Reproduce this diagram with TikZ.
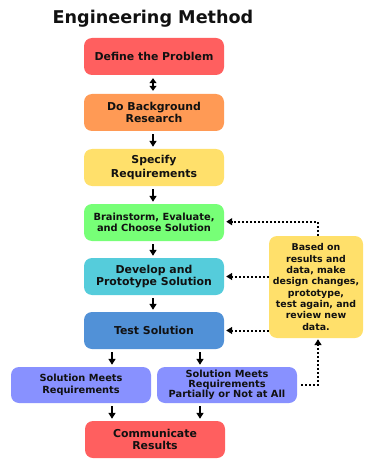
\documentclass[tikz,border=0pt]{standalone}
\usepackage{fontspec}
\setmainfont{DejaVu Sans}
\usetikzlibrary{arrows.meta}
\definecolor{cred}{HTML}{FF5F5F}
\definecolor{corange}{HTML}{FF9A55}
\definecolor{cyellow}{HTML}{FFE06B}
\definecolor{cgreen}{HTML}{77FF77}
\definecolor{ccyan}{HTML}{55CCDB}
\definecolor{cblue}{HTML}{5191D7}
\definecolor{cpurple}{HTML}{8891FF}
\definecolor{ctext}{HTML}{111111}
\begin{document}
\begin{tikzpicture}[x=1pt,y=-1pt,
  box/.style={rounded corners=8pt, minimum width=140pt, minimum height=37pt, inner sep=0pt, align=center, text=ctext},
  mainfont/.style={font=\bfseries\fontsize{10.9}{12.7}\selectfont},
  arr/.style={-{Triangle[length=6pt,width=7pt]}, line width=1.8pt, shorten <=3pt, shorten >=2pt},
  darr/.style={{Triangle[length=5pt,width=7pt]}-{Triangle[length=5pt,width=7pt]}, line width=1.8pt, shorten <=3pt, shorten >=3pt},
  dot/.style={-{Triangle[length=6pt,width=7pt]}, line width=2pt, dash pattern=on 2pt off 2pt}]
\useasboundingbox (0,0) rectangle (376,473);
\node[anchor=base, text=ctext, font=\bfseries\fontsize{17.6}{20}\selectfont] (title) at (153,23.3) {Engineering Method};
\node[box, mainfont, fill=cred] (define) at (154,56.5) {Define the Problem};
\node[box, mainfont, fill=corange] (research) at (154,112.5) {Do Background\\Research};
\node[box, font=\bfseries\fontsize{10.9}{13.3}\selectfont, fill=cyellow] (specify) at (154,167.5) {Specify\\Requirements};
\node[box, font=\bfseries\fontsize{9.85}{11.3}\selectfont, fill=cgreen] (brain) at (154,222.5) {Brainstorm, Evaluate,\\and Choose Solution};
\node[box, mainfont, fill=ccyan] (develop) at (154,276.5) {Develop and\\Prototype Solution};
\node[box, mainfont, fill=cblue] (test) at (154,330.5) {Test Solution};
\node[box, minimum height=36pt, font=\bfseries\fontsize{9.8}{12}\selectfont, fill=cpurple] (meets) at (81,385) {Solution Meets\\Requirements};
\node[box, minimum height=36pt, font=\bfseries\fontsize{9.8}{9.9}\selectfont, fill=cpurple] (partial) at (227,385) {Solution Meets\\Requirements\\Partially or Not at All};
\node[box, mainfont, fill=cred] (comm) at (155,439.5) {Communicate\\Results};
\node[box, minimum width=94pt, minimum height=102pt, font=\bfseries\fontsize{9.4}{11.3}\selectfont, fill=cyellow] (side) at (316,287) {Based on\\results and\\data, make\\design changes,\\prototype,\\test again, and\\review new\\data.};
% solid arrows
\draw[darr] ([xshift=-1pt]define.south) -- ([xshift=-1pt]research.north);
\draw[arr] ([xshift=-1pt]research.south) -- ([xshift=-1pt]specify.north);
\draw[arr] ([xshift=-1pt]specify.south) -- ([xshift=-1pt]brain.north);
\draw[arr] ([xshift=-1pt]brain.south) -- ([xshift=-1pt]develop.north);
\draw[arr] ([xshift=-1pt]develop.south) -- ([xshift=-1pt]test.north);
\draw[arr] ([xshift=-42pt]test.south) -- ([xshift=-42pt]test.south |- meets.north);
\draw[arr] ([xshift=46pt]test.south) -- ([xshift=46pt]test.south |- partial.north);
\draw[arr] ([xshift=-43pt]comm.north |- meets.south) -- ([xshift=-43pt]comm.north);
\draw[arr] ([xshift=45pt]comm.north |- partial.south) -- ([xshift=45pt]comm.north);
% dotted feedback
\coordinate (c1) at ([xshift=2pt]side.south |- partial.east);
\coordinate (c2) at ([xshift=2pt]side.north |- 0,221.7);
\draw[dot, shorten <=4pt, shorten >=1pt] (partial.east) -- (c1) -- ([xshift=2pt]side.south);
\draw[dot, shorten >=2pt] ([xshift=2pt]side.north) -- (c2) -- (c2 -| brain.east);
\draw[dot, shorten >=2pt] (side.west |- develop.east) -- (develop.east);
\draw[dot, shorten >=2pt] (side.west |- test.east) -- (test.east);
\end{tikzpicture}
\end{document}
